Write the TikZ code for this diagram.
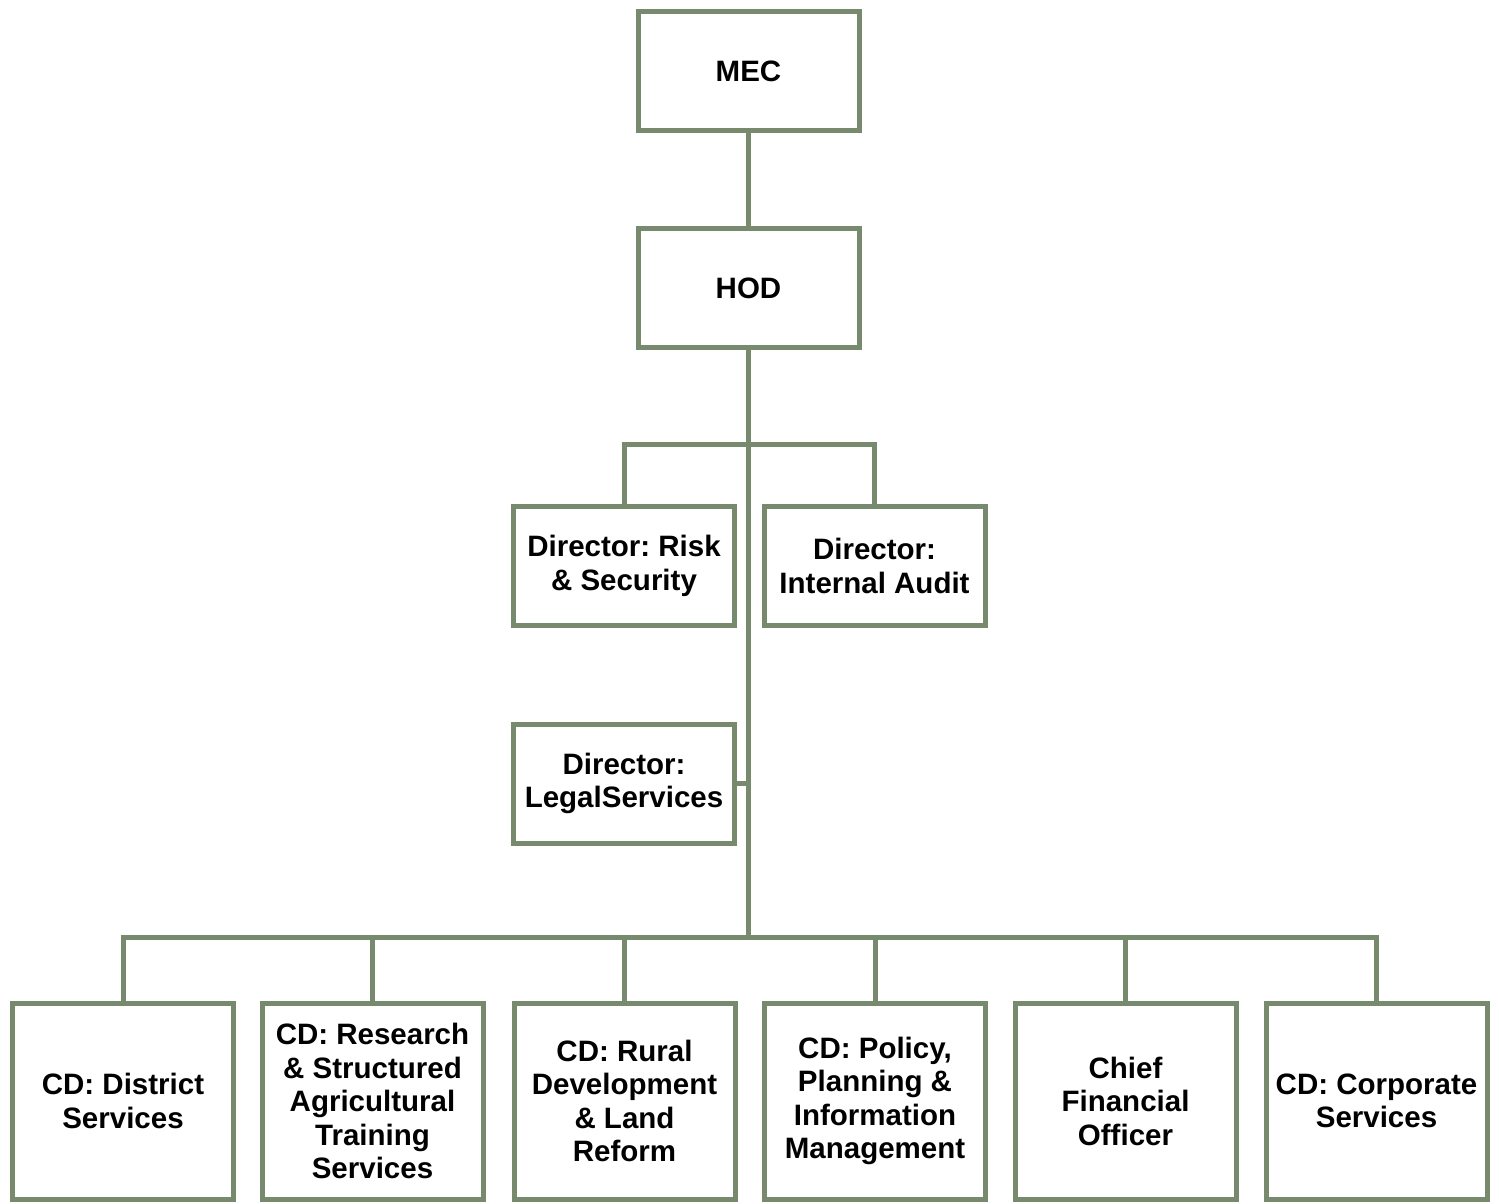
\documentclass[tikz,border=0pt]{standalone}
\usepackage{fontspec}
\setmainfont{Liberation Sans}
\usepackage{tikz}
\usetikzlibrary{positioning,calc}
\frenchspacing
\definecolor{orggreen}{RGB}{119,138,109}
\tikzset{
  post/.style={draw=orggreen, line width=5pt, fill=white, minimum width=221pt,
               minimum height=119pt, align=center, inner sep=2pt,
               font=\fontsize{29.5}{33.5}\selectfont\bfseries},
  cdpost/.style={post, minimum height=196pt},
  link/.style={draw=orggreen, line width=5pt}
}
\begin{document}
\begin{tikzpicture}[x=1pt, y=-1pt]
    \useasboundingbox (0,0) rectangle (1499,1203);
    \node[post] (mec) at (748.5,71) {MEC};
    \node[post] (hod) at (748.5,288) {HOD};
    \node[post] (risk) at (624,566) {Director: Risk\\ \& Security};
    \node[post] (audit) at (874.5,566) {Director:\\ Internal Audit};
    \node[post] (legal) at (624,783.5) {Director:\\ LegalServices};
    \node[cdpost] (dist) at (123,1101) {CD: District\\ Services};
    \node[cdpost] (rsat) at (372.5,1101) {CD: Research\\ \& Structured\\ Agricultural\\ Training\\ Services};
    \node[cdpost] (rural) at (624.5,1101) {CD: Rural\\ Development\\ \& Land\\ Reform};
    \node[cdpost] (ppim) at (875,1101) {CD: Policy,\\ Planning \&\\ Information\\ Management};
    \node[cdpost] (cfo) at (1125.5,1101) {Chief\\ Financial\\ Officer};
    \node[cdpost] (corp) at (1376.5,1101) {CD: Corporate\\ Services};
    \coordinate (split) at (748.5,444);
    \coordinate (bus) at (748.5,937);
    % trunk
    \draw[link] (mec.south) -- (hod.north);
    \draw[link] (hod.south) -- (bus);
    \draw[link] (risk.north) |- (split) -| (audit.north);
    \draw[link] (legal.east) -- (legal.east -| bus);
    % chief directorates
    \draw[link] (dist.north) |- (bus) -| (corp.north);
    \foreach \n in {rsat,rural,ppim,cfo}
      \draw[link] (\n.north) -- (\n.north |- bus);
  \end{tikzpicture}
\end{document}
